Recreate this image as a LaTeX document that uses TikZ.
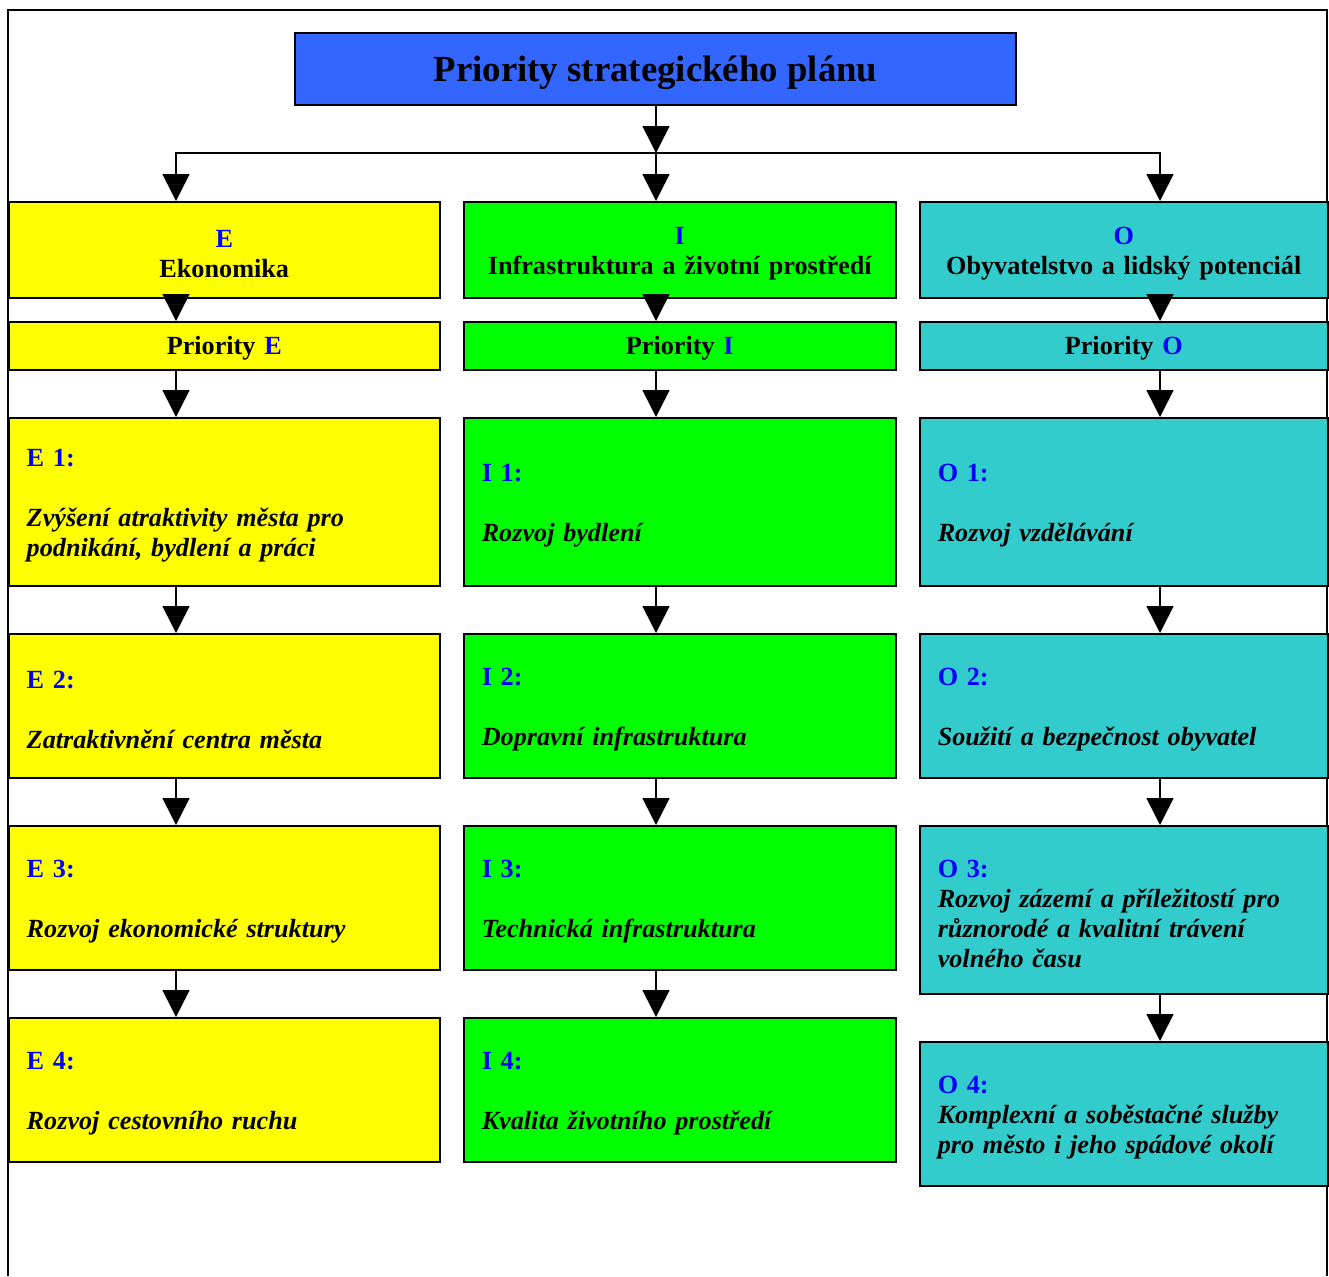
\documentclass[tikz,border=0pt]{standalone}
\usepackage{fontspec}
\setmainfont{Liberation Serif}
\usepackage{xcolor}
\usetikzlibrary{arrows.meta}

\definecolor{titleblue}{HTML}{3366FF}
\definecolor{ecolor}{HTML}{FFFF00}
\definecolor{icolor}{HTML}{00FF00}
\definecolor{ocolor}{HTML}{33CCCC}
\definecolor{lblue}{HTML}{0000FF}
\newcommand{\nr}[1]{\textcolor{lblue}{#1}}
\newcommand{\lowerfix}{\par\vskip-4pt\hrule height 0pt\relax}

\begin{document}
\begin{tikzpicture}[x=0.5pt, y=-0.5pt,
  box/.style={draw, line width=0.75pt, anchor=north west, inner xsep=9pt, inner ysep=0pt,
    execute at end node=\lowerfix,
    font=\bfseries\fontsize{13.1}{15}\selectfont},
  colE/.style={box, fill=ecolor, minimum width=215.5pt, text width=197.5pt},
  colI/.style={box, fill=icolor, minimum width=216pt, text width=198pt},
  colO/.style={box, fill=ocolor, minimum width=204pt, text width=186pt},
  head/.style={align=center},
  goal/.style={align=left},
  arr/.style={line width=0.75pt, -{Triangle[width=13.5pt,length=13.5pt]}}]
 \useasboundingbox (0,0) rectangle (1329,1276);
 \draw [line width=0.75pt] (8,1276) -- (8,10) -- (1327,10) -- (1327,1276);
 \node [draw, line width=0.75pt, fill=titleblue, minimum width=360.5pt, minimum height=36pt, text depth=0pt,
   font=\bfseries\fontsize{18.4}{22}\selectfont] (title) at (655.5,69) {Priority strategického plánu};

 % sloupec E
 \node [colE, head, minimum height=48pt] (E0) at (8,201) {\nr{E}\\ Ekonomika};
 \node [colE, head, minimum height=24pt] (EP) at (8,321) {Priority \nr{E}};
 \node [colE, goal, minimum height=84pt] (E1) at (8,417) {\nr{E 1:}\\[15pt] \textit{Zvýšení atraktivity města pro\\ podnikání, bydlení a práci}};
 \node [colE, goal, minimum height=72pt] (E2) at (8,633) {\nr{E 2:}\\[15pt] \textit{Zatraktivnění centra města}};
 \node [colE, goal, minimum height=72pt] (E3) at (8,825) {\nr{E 3:}\\[15pt] \textit{Rozvoj ekonomické struktury}};
 \node [colE, goal, minimum height=72pt] (E4) at (8,1017) {\nr{E 4:}\\[15pt] \textit{Rozvoj cestovního ruchu}};

 % sloupec I
 \node [colI, head, minimum height=48pt] (I0) at (463,201) {\nr{I}\\ Infrastruktura a životní prostředí};
 \node [colI, head, minimum height=24pt] (IP) at (463,321) {Priority \nr{I}};
 \node [colI, goal, minimum height=84pt] (I1) at (463,417) {\nr{I 1:}\\[15pt] \textit{Rozvoj bydlení}};
 \node [colI, goal, minimum height=72pt] (I2) at (463,633) {\nr{I 2:}\\[15pt] \textit{Dopravní infrastruktura}};
 \node [colI, goal, minimum height=72pt] (I3) at (463,825) {\nr{I 3:}\\[15pt] \textit{Technická infrastruktura}};
 \node [colI, goal, minimum height=72pt] (I4) at (463,1017) {\nr{I 4:}\\[15pt] \textit{Kvalita životního prostředí}};

 % sloupec O
 \node [colO, head, minimum height=48pt] (O0) at (919,201) {\nr{O}\\ Obyvatelstvo a lidský potenciál};
 \node [colO, head, minimum height=24pt] (OP) at (919,321) {Priority \nr{O}};
 \node [colO, goal, minimum height=84pt] (O1) at (919,417) {\nr{O 1:}\\[15pt] \textit{Rozvoj vzdělávání}};
 \node [colO, goal, minimum height=72pt] (O2) at (919,633) {\nr{O 2:}\\[15pt] \textit{Soužití a bezpečnost obyvatel}};
 \node [colO, goal, minimum height=84pt] (O3) at (919,825) {\nr{O 3:}\\ \textit{Rozvoj zázemí a příležitostí pro\\ různorodé a kvalitní trávení\\ volného času}};
 \node [colO, goal, minimum height=72pt] (O4) at (919,1041) {\nr{O 4:}\\ \textit{Komplexní a soběstačné služby\\ pro město i jeho spádové okolí}};

 % spojnice
 \coordinate (split) at (656,153);
 \coordinate (xE) at (176,0);
 \coordinate (xI) at (656,0);
 \coordinate (xO) at (1160,0);
 \draw [arr] (title.south -| xI) -- (split);
 \draw [arr] (split) -| (E0.north -| xE);
 \draw [arr] (split) -- (I0.north -| xI);
 \draw [arr] (split) -| (O0.north -| xO);
 \foreach \c in {E,I,O}
  \foreach \a/\b in {0/P,P/1,1/2,2/3,3/4}
   \draw [arr] (\c\a.south -| x\c) -- (\c\b.north -| x\c);
\end{tikzpicture}
\end{document}
